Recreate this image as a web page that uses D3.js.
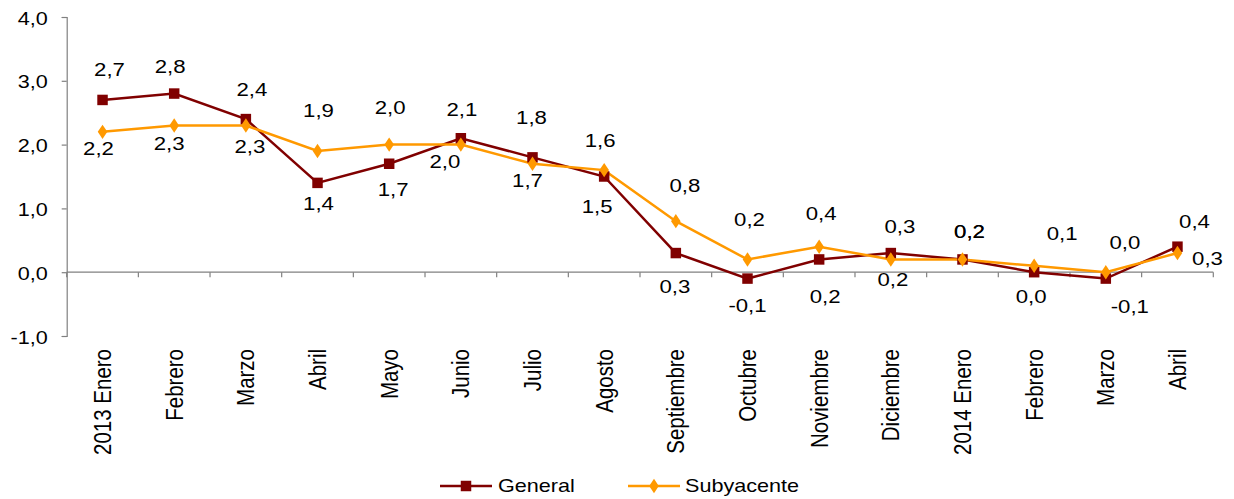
<!DOCTYPE html>
<html>
<head>
<meta charset="utf-8">
<script src="https://cdn.jsdelivr.net/npm/d3@7"></script>
<style>
  body { margin: 0; background: #fff; }
  svg text { font-family: "Liberation Sans", Arial, sans-serif; fill: #000; }
</style>
</head>
<body>
<svg id="chart" width="1234" height="499"></svg>
<script>
const categories = ["2013 Enero", "Febrero", "Marzo", "Abril", "Mayo", "Junio", "Julio", "Agosto",
  "Septiembre", "Octubre", "Noviembre", "Diciembre", "2014 Enero", "Febrero ", "Marzo ", "Abril "];
const general = [2.7, 2.8, 2.4, 1.4, 1.7, 2.1, 1.8, 1.5, 0.3, -0.1, 0.2, 0.3, 0.2, 0.0, -0.1, 0.4];
const subyacente = [2.2, 2.3, 2.3, 1.9, 2.0, 2.0, 1.7, 1.6, 0.8, 0.2, 0.4, 0.2, 0.2, 0.1, 0.0, 0.3];
const yTicks = [-1, 0, 1, 2, 3, 4];
const seriesNames = ["General", "Subyacente"];

// where each data label sits relative to its marker [dx, dy]
const generalNudge = [[7,-30],[-4,-27],[6,-30],[1,21],[4,26],[1,-29],[-1,-40],[-7,30],
  [-1,33],[0,27],[6,37],[9,-27],[7,-28],[-3,24],[24,28],[17,-25]];
const subNudge = [[-4,17],[-5,18],[4,21],[1,-40],[1,-37],[-16,17],[-5,17],[-4,-30],
  [9,-36],[2,-40],[2,-33],[2,20],[7,-28],[28,-32],[19,-30],[30,5]];

const red = "#800000", orange = "#ff9900";
const SX = 1.2; // text in the original is stretched horizontally

const fmt = d3.formatLocale({ decimal: ",", thousands: ".", grouping: [3], currency: ["", ""], minus: "-" }).format(".1f");

const svg = d3.select("#chart");

const x = d3.scaleBand().domain(categories).range([66.7, 1213.3]);
const y = d3.scaleLinear().domain([-1, 4]).range([336, 17]);
const cx = (i) => x(categories[i]) + x.bandwidth() / 2;

// y axis
const yAxis = svg.append("g")
  .attr("transform", "translate(66.7,0)")
  .call(d3.axisLeft(y).tickValues(yTicks).tickSize(5).tickFormat(fmt));
yAxis.select(".domain").attr("stroke", "#808080").attr("stroke-width", 1.2);
yAxis.selectAll(".tick line").attr("stroke", "#808080").attr("stroke-width", 1.2);
yAxis.selectAll(".tick text")
  .attr("x", 0).attr("dy", null)
  .attr("transform", `translate(-19,7) scale(${SX},1)`)
  .style("font-size", "18px")
  .style("font-family", "'Liberation Sans', Arial, sans-serif");

// zero line with ticks at category boundaries
const zeroY = y(0);
svg.append("line")
  .attr("x1", x.range()[0]).attr("x2", x.range()[1])
  .attr("y1", zeroY).attr("y2", zeroY)
  .attr("stroke", "#808080").attr("stroke-width", 1.2);
const bounds = categories.map((c) => x(c)).concat([x.range()[1]]);
svg.append("g").selectAll("line").data(bounds).join("line")
  .attr("x1", (d) => d).attr("x2", (d) => d)
  .attr("y1", zeroY).attr("y2", zeroY + 5)
  .attr("stroke", "#808080").attr("stroke-width", 1.2);

// category labels, rotated
svg.append("g").selectAll("text").data(categories).join("text")
  .attr("transform", (d, i) => `translate(${cx(i)},349) scale(${SX},1) rotate(-90)`)
  .attr("text-anchor", "end")
  .attr("dy", "0.35em")
  .style("font-size", "20.5px")
  .text((d) => d.trim());

// lines
const line = d3.line().x((d, i) => cx(i)).y((d) => y(d));
svg.append("path").datum(general).attr("d", line)
  .attr("fill", "none").attr("stroke", red).attr("stroke-width", 2.5);
svg.append("path").datum(subyacente).attr("d", line)
  .attr("fill", "none").attr("stroke", orange).attr("stroke-width", 2.5);

// markers
const square = d3.symbol().type(d3.symbolSquare).size(110);
const diamond = d3.symbol().type(d3.symbolDiamond).size(60);
svg.append("g").selectAll("path").data(general).join("path")
  .attr("d", square)
  .attr("transform", (d, i) => `translate(${cx(i)},${y(d)})`)
  .attr("fill", red);
svg.append("g").selectAll("path").data(subyacente).join("path")
  .attr("d", diamond)
  .attr("transform", (d, i) => `translate(${cx(i)},${y(d)}) scale(1.15,1)`)
  .attr("fill", orange);

// data labels
function labels(values, nudge) {
  svg.append("g").selectAll("text").data(values).join("text")
    .attr("transform", (d, i) => `translate(${cx(i) + nudge[i][0]},${y(d) + nudge[i][1]}) scale(${SX},1)`)
    .attr("text-anchor", "middle")
    .attr("dy", "0.35em")
    .style("font-size", "18.5px")
    .text((d) => fmt(d));
}
labels(general, generalNudge);
labels(subyacente, subNudge);

// legend
const legend = svg.append("g").attr("transform", "translate(0,486)");
const legendItems = [
  { name: seriesNames[0], color: red, x0: 440, x1: 492, sym: square, tx: 498 },
  { name: seriesNames[1], color: orange, x0: 628, x1: 680, sym: diamond, tx: 685 },
];
legendItems.forEach((it) => {
  legend.append("line")
    .attr("x1", it.x0).attr("x2", it.x1)
    .attr("stroke", it.color).attr("stroke-width", 2.5);
  legend.append("path")
    .attr("d", it.sym)
    .attr("transform", `translate(${(it.x0 + it.x1) / 2},0)` + (it.sym === diamond ? " scale(1.15,1)" : ""))
    .attr("fill", it.color);
  legend.append("text")
    .attr("transform", `translate(${it.tx},0) scale(${SX},1)`)
    .attr("dy", "0.35em")
    .style("font-size", "18px")
    .text(it.name);
});
</script>
</body>
</html>
